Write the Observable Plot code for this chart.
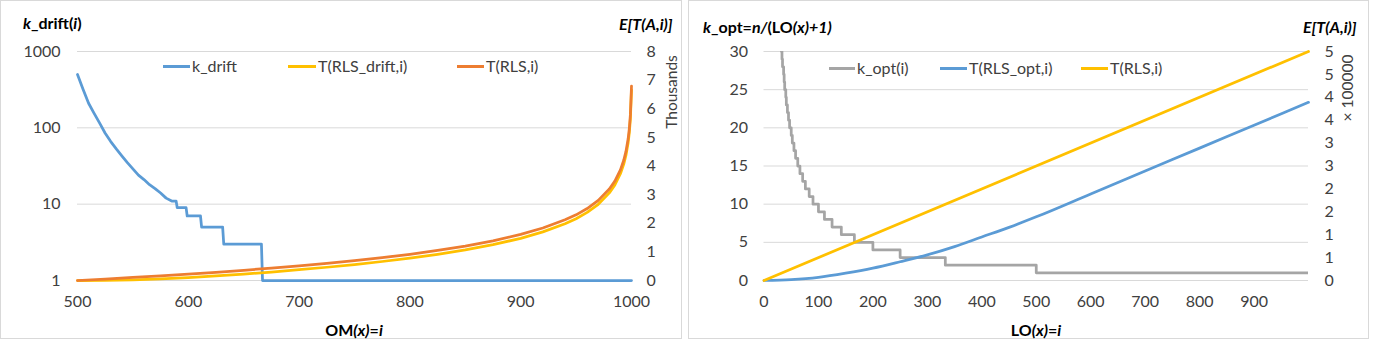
<!DOCTYPE html>
<html><head><meta charset="utf-8">
<script src="https://cdn.jsdelivr.net/npm/d3@7"></script>
<script src="https://cdn.jsdelivr.net/npm/@observablehq/plot@0.6"></script>
<style>
body{margin:0;background:#fff;font-family:Lato,"Open Sans",sans-serif;}
#root{position:relative;width:1373px;height:343px;overflow:hidden;background:#fff}
.abs{position:absolute;white-space:nowrap;line-height:1}
.frame{position:absolute;border:1px solid #d9d9d9;box-sizing:border-box}
.title{font-weight:bold;font-size:16px;color:#000}
.leg{font-size:16px;color:#404040}
.ctr{transform:translate(-50%,-50%)}
.rot{transform:translate(-50%,-50%) rotate(-90deg);font-size:15.5px;color:#404040}
.sw{position:absolute;height:3px}
svg{position:absolute;top:0}
</style></head>
<body><div id="root"></div>
<script>
// ---------- Data: left panel (OneMax) ----------
const kdriftI = [500,505,510,515,520,525,530,535,540,545,550,555,560,565,570,575,580,585,589,590,598,599,611,612,631,632,666,667,1000];
const kdriftV = [500,320,210,155,115,85,66,53,43,35,29,24,21,18,16,14,12,11,11,9,9,7,7,5,5,3,3,1,1];
const tI      = [500,525,550,575,600,625,650,675,700,725,750,775,800,825,850,875,900,920,940,950,960,970,980,985,990,993,995,997,998,999,1000];
const tRLS    = [0,51,105,163,223,288,357,431,511,598,693,799,916,1050,1204,1386,1609,1833,2120,2294,2514,2798,3195,3475,3864,4200,4510,4959,5293,5793,6793];
const tDrift  = [0,2,22,60,103,160,224,296,376,463,558,664,781,915,1069,1251,1474,1698,1985,2159,2379,2663,3060,3340,3729,4065,4375,4824,5158,5658,6658];
const leftXTicks = [500,600,700,800,900,1000];
const leftYTicks = [1,10,100,1000];
const leftRTicks = [0,1000,2000,3000,4000,5000,6000,7000,8000];
const leftRLabels = ["0","1","2","3","4","5","6","7","8"];

// ---------- Data: right panel (LeadingOnes) ----------
const koptI = [31,32,33,34,36,37,38,40,41,43,45,47,50,52,55,58,62,66,71,76,83,90,100,111,125,142,166,200,250,333,500,1000];
const koptV = [31,30,29,28,27,26,25,24,23,22,21,20,19,18,17,16,15,14,13,12,11,10,9,8,7,6,5,4,3,2,1,1];
const optI  = [0,50,100,150,200,250,300,350,400,450,500,600,700,800,900,1000];
const optV  = [0,2000,7000,16000,27000,41000,56000,74000,95000,116000,139000,189000,239000,289000,339000,389000];
const rlsI  = [0,1000];
const rlsV  = [0,500000];
const rightXTicks = [0,100,200,300,400,500,600,700,800,900];
const rightYTicks = [0,5,10,15,20,25,30];
const rightRTicks = [0,50000,100000,150000,200000,250000,300000,350000,400000,450000,500000];
const rightRLabels = ["0","1","1","2","2","3","3","4","4","5","5"];

const BLUE="#5B9BD5", ORANGE="#ED7D31", YELLOW="#FFC000", GRAY="#A5A5A5", GRID="#d9d9d9", TXT="#404040";
const FONT = "Lato, 'Open Sans', sans-serif";
const FS = 16;
const root = document.getElementById("root");

function add(html, cls, x, y, extra) {
  const d = document.createElement("div");
  d.className = "abs " + cls;
  d.style.left = x + "px"; d.style.top = y + "px";
  if (extra) Object.assign(d.style, extra);
  d.innerHTML = html;
  root.appendChild(d);
  return d;
}
function frame(x, y, w, h) {
  const d = document.createElement("div");
  d.className = "frame";
  Object.assign(d.style, {left:x+"px", top:y+"px", width:w+"px", height:h+"px"});
  root.appendChild(d);
}
function legend(items, cy) {
  for (const it of items) {
    const s = document.createElement("div");
    s.className = "sw";
    Object.assign(s.style, {left: it.x0+"px", width:(it.x1-it.x0)+"px", top:(cy-1.5)+"px", background: it.color});
    root.appendChild(s);
    add(it.label, "leg", it.x1 + 2, cy, {transform:"translateY(-50%)"});
  }
}
const zip = (xs, ys) => xs.map((x, i) => ({x, y: ys[i]}));

// ---------- Left panel ----------
frame(0, 0, 682, 339);
const toLog = v => Math.pow(10, 3 * v / 8000);
const leftPlot = Plot.plot({
  width: 682, height: 339,
  marginLeft: 77, marginRight: 51, marginTop: 51, marginBottom: 59,
  style: {fontFamily: FONT, background: "transparent", overflow: "visible"},
  x: {domain: [500, 1000]},
  y: {type: "log", domain: [1, 1000], axis: null},
  marks: [
    Plot.ruleY(leftYTicks, {stroke: GRID, strokeWidth: 1}),
    Plot.axisX(leftXTicks, {tickSize: 0, tickPadding: 15, fontSize: FS, color: TXT, tickFormat: d => String(d), label: null}),
    Plot.text(leftYTicks, {y: d => d, text: d => String(d), frameAnchor: "left", dx: -17, textAnchor: "end", fontSize: FS, fill: TXT}),
    Plot.text(leftRTicks, {y: d => toLog(d), text: (d, i) => leftRLabels[i], frameAnchor: "right", dx: 15, textAnchor: "start", fontSize: FS, fill: TXT}),
    Plot.line(zip(kdriftI, kdriftV), {x: "x", y: "y", stroke: BLUE, strokeWidth: 2.75}),
    Plot.line(zip(tI, tDrift.map(toLog)), {x: "x", y: "y", stroke: YELLOW, strokeWidth: 2.75}),
    Plot.line(zip(tI, tRLS.map(toLog)), {x: "x", y: "y", stroke: ORANGE, strokeWidth: 2.75})
  ]
});
leftPlot.style.left = "0px";
root.appendChild(leftPlot);

add("<i>k</i>_drift(<i>i</i>)", "title", 23, 15);
add("<i>E[T(A,i)]</i>", "title", 619, 16);
add("Thousands", "rot", 672, 92);
add("OM<i>(x)</i>=<i>i</i>", "title ctr", 354, 330);
legend([
  {label: "k_drift", color: BLUE, x0: 163, x1: 190},
  {label: "T(RLS_drift,i)", color: YELLOW, x0: 288, x1: 316},
  {label: "T(RLS,i)", color: ORANGE, x0: 457, x1: 484}
], 66);

// ---------- Right panel ----------
frame(688, 0, 681, 339);
const toLin = v => v * 30 / 500000;
const rightPlot = Plot.plot({
  width: 681, height: 339,
  marginLeft: 75.5, marginRight: 61, marginTop: 51, marginBottom: 59,
  style: {fontFamily: FONT, background: "transparent", overflow: "visible"},
  x: {domain: [0, 1000]},
  y: {domain: [0, 30], axis: null},
  marks: [
    Plot.ruleY(rightYTicks, {stroke: GRID, strokeWidth: 1}),
    Plot.axisX(rightXTicks, {tickSize: 0, tickPadding: 15, fontSize: FS, color: TXT, tickFormat: d => String(d), label: null}),
    Plot.text(rightYTicks, {y: d => d, text: d => String(d), frameAnchor: "left", dx: -16, textAnchor: "end", fontSize: FS, fill: TXT}),
    Plot.text(rightRTicks, {y: d => toLin(d), text: (d, i) => rightRLabels[i], frameAnchor: "right", dx: 16, textAnchor: "start", fontSize: FS, fill: TXT}),
    Plot.line(zip(koptI, koptV), {x: "x", y: "y", stroke: GRAY, strokeWidth: 2.75, curve: "step-after", clip: true}),
    Plot.line(zip(optI, optV.map(toLin)), {x: "x", y: "y", stroke: BLUE, strokeWidth: 2.75, curve: "monotone-x"}),
    Plot.line(zip(rlsI, rlsV.map(toLin)), {x: "x", y: "y", stroke: YELLOW, strokeWidth: 2.75})
  ]
});
rightPlot.style.left = "688px";
root.appendChild(rightPlot);

add("<i>k</i>_opt=<i>n/</i>(LO<i>(x)+1)</i>", "title", 703, 19);
add("<i>E[T(A,i)]</i>", "title", 1303, 19);
add("× 100000", "rot", 1348, 88);
add("LO<i>(x)</i>=<i>i</i>", "title ctr", 1036, 330);
legend([
  {label: "k_opt(i)", color: GRAY, x0: 829, x1: 855},
  {label: "T(RLS_opt,i)", color: BLUE, x0: 940, x1: 967},
  {label: "T(RLS,i)", color: YELLOW, x0: 1081, x1: 1108}
], 68);
</script></body></html>
